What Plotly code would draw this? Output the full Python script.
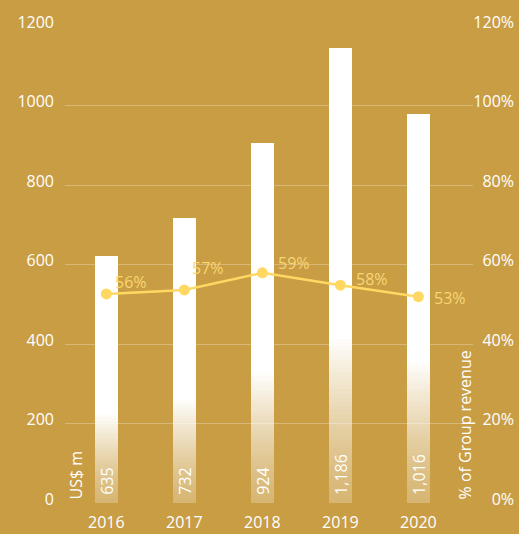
import plotly.graph_objects as go

# ---- data ----
years = ["2016", "2017", "2018", "2019", "2020"]
revenue = [622, 717, 906, 1145, 979]            # US$ m (bar heights)
revenue_labels = ["635", "732", "924", "1,186", "1,016"]
share = [52.6, 53.6, 57.9, 54.8, 51.9]          # % of Group revenue (line)
share_labels = ["56%", "57%", "59%", "58%", "53%"]
left_ticks = [0, 200, 400, 600, 800, 1000, 1200]
right_ticks = [0, 20, 40, 60, 80, 100, 120]
right_ticktext = ["0%", "20%", "40%", "60%", "80%", "100%", "120%"]

# ---- style ----
BG = "#C99D43"
FONT = "Open Sans"
FS = 16
LINE = "rgb(255,216,100)"
LABEL = "rgb(248,214,118)"
WHITE = "#FFFFFF"

fig = go.Figure()

# bars with a fading bottom (stacked segments)
N = 40
fade_frac = 0.37
for i in range(N):
    a = 0.26 + (1 - 0.26) * (i / (N - 1)) ** 1.3
    fig.add_trace(go.Bar(
        x=years, y=[v * fade_frac / N for v in revenue],
        marker=dict(color=f"rgba(255,255,255,{a:.3f})", line=dict(width=0)),
        width=0.295, hoverinfo="skip", showlegend=False))
fig.add_trace(go.Bar(
    x=years, y=[v * (1 - fade_frac) for v in revenue],
    marker=dict(color=WHITE, line=dict(width=0)),
    width=0.295, hoverinfo="skip", showlegend=False))

# line
fig.add_trace(go.Scatter(
    x=years, y=share, yaxis="y2", mode="lines+markers",
    line=dict(color=LINE, width=2.5),
    marker=dict(color=LINE, size=11),
    showlegend=False))

annotations = []
# bar value labels
for i, lab in enumerate(revenue_labels):
    annotations.append(dict(
        x=i, y=0, xref="x", yref="y", text=lab, textangle=-90,
        showarrow=False, xanchor="center", yanchor="bottom", yshift=6,
        font=dict(family=FONT, size=FS, color=WHITE)))

# percentage labels
offsets = [(7, 12), (6, 22), (14, 10), (14, 6), (14, -1)]
for i, (v, lab, (dx, dy)) in enumerate(zip(share, share_labels, offsets)):
    annotations.append(dict(
        x=i, y=v, xref="x", yref="y2", text=lab, showarrow=False,
        xanchor="left", yanchor="middle", xshift=dx, yshift=dy,
        font=dict(family=FONT, size=FS, color=LABEL)))

# axis titles
annotations.append(dict(
    x=(75 - 65) / 452, y=0, xref="paper", yref="paper", text="US$ m",
    textangle=-90, showarrow=False, xanchor="center", yanchor="bottom",
    yshift=1, font=dict(family=FONT, size=FS, color=WHITE)))
annotations.append(dict(
    x=(464 - 65) / 452, y=0, xref="paper", yref="paper",
    text="% of Group revenue", textangle=-90,
    showarrow=False, xanchor="center", yanchor="bottom", yshift=1,
    font=dict(family=FONT, size=FS, color=WHITE)))

fig.update_layout(
    width=519, height=534,
    margin=dict(l=65, r=2, t=26, b=31),
    paper_bgcolor=BG, plot_bgcolor=BG,
    barmode="stack", bargap=0,
    font=dict(family=FONT, size=FS, color=WHITE),
    xaxis=dict(
        type="category", automargin=False,
        domain=[0, 408 / 452], range=[-0.53, 4.70],
        showgrid=False, zeroline=False, showline=False, ticks="",
        ticklabelstandoff=8,
        tickfont=dict(family=FONT, size=FS, color=WHITE)),
    yaxis=dict(
        range=[0, 1200], tickvals=left_ticks, showgrid=True, automargin=False,
        gridcolor="rgba(255,255,255,0.28)", gridwidth=1,
        zeroline=False, showline=False, ticks="",
        ticklabelstandoff=10, ticklabelshift=-4,
        tickfont=dict(family=FONT, size=FS, color=WHITE)),
    yaxis2=dict(
        range=[0, 120], tickvals=right_ticks, ticktext=right_ticktext,
        overlaying="y", side="right", anchor="free", position=1.0,
        automargin=False,
        ticklabelposition="inside", ticklabeloverflow="allow",
        showgrid=False, zeroline=False,
        showline=False, ticks="", ticklabelshift=-4,
        tickfont=dict(family=FONT, size=FS, color=WHITE)),
    annotations=annotations,
)

fig.write_html("out.html", config={"displayModeBar": False},
               post_script="document.body.style.margin='0';")
